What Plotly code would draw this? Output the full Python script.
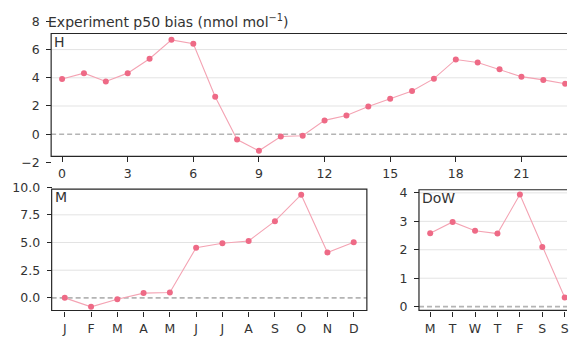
import plotly.graph_objects as go

# ---------------- data ----------------
hours = list(range(24))
hour_bias = [3.92, 4.33, 3.74, 4.33, 5.35, 6.69, 6.42, 2.65, -0.38, -1.18, -0.16, -0.11,
             0.98, 1.32, 1.97, 2.52, 3.06, 3.94, 5.30, 5.08, 4.60, 4.08, 3.85, 3.58]
hour_ticks = [0, 3, 6, 9, 12, 15, 18, 21]
hour_yticks = [-2, 0, 2, 4, 6, 8]

months = list(range(1, 13))
month_labels = ["J", "F", "M", "A", "M", "J", "J", "A", "S", "O", "N", "D"]
month_bias = [0.0, -0.81, -0.12, 0.43, 0.49, 4.53, 4.94, 5.14, 6.93, 9.32, 4.10, 5.02]
month_yticks = [0.0, 2.5, 5.0, 7.5, 10.0]

days = list(range(7))
day_labels = ["M", "T", "W", "T", "F", "S", "S"]
day_bias = [2.58, 2.98, 2.67, 2.57, 3.94, 2.10, 0.32]
day_yticks = [0, 1, 2, 3, 4]

ylabel = "Experiment p50 bias (nmol mol<sup>−1</sup>)"

# ---------------- style ----------------
W, H = 569, 337
LINE = "#f4a3b3"
MARK = "#ee6a86"
FRAME = "#262626"
GRID = "#e3e3e3"
ZERO = "#b4b4b4"
TXT = "#333333"
FONT = "DejaVu Sans"

def px_x(p):
    return p / W

def px_y(p):
    return 1 - p / H

fig = go.Figure()

panels = [
    dict(x=hours, y=hour_bias, xa="x", ya="y", fx=(-0.5, 23.5), fy=(-1.57, 7.14), label="H",
         grid=[g for g in hour_yticks if -1.57 < g < 7.14 and g != 0]),
    dict(x=months, y=month_bias, xa="x2", ya="y2", fx=(0.5, 12.5), fy=(-1.14, 9.83), label="M",
         grid=[g for g in month_yticks if -1.14 < g < 9.83 and g != 0]),
    dict(x=days, y=day_bias, xa="x3", ya="y3", fx=(-0.5, 6.5), fy=(-0.13, 4.11), label="DoW",
         grid=[g for g in day_yticks if -0.13 < g < 4.11 and g != 0]),
]

shapes = []
annotations = []
for p in panels:
    fig.add_trace(go.Scatter(
        x=p["x"], y=p["y"], xaxis=p["xa"], yaxis=p["ya"], mode="lines+markers",
        line=dict(color=LINE, width=1.1),
        marker=dict(color=MARK, size=6, line=dict(width=0)),
        showlegend=False, hoverinfo="skip"))
    x0, x1 = p["fx"]
    y0, y1 = p["fy"]
    for g in p["grid"]:
        shapes.append(dict(type="line", xref=p["xa"], yref=p["ya"], x0=x0, x1=x1, y0=g, y1=g,
                           line=dict(color=GRID, width=1), layer="below"))
    shapes.append(dict(type="line", xref=p["xa"], yref=p["ya"], x0=x0, x1=x1, y0=0, y1=0,
                       line=dict(color=ZERO, width=1.6, dash="5px,3px"), layer="below"))
    shapes.append(dict(type="rect", xref=p["xa"], yref=p["ya"], x0=x0, x1=x1, y0=y0, y1=y1,
                       line=dict(color=FRAME, width=1.2), fillcolor="rgba(0,0,0,0)", layer="above"))
    annotations.append(dict(text=p["label"], xref=p["xa"], yref=p["ya"], x=x0, y=y1,
                            xanchor="left", yanchor="top", xshift=1, yshift=2, showarrow=False,
                            font=dict(family=FONT, size=14, color=TXT)))

annotations.append(dict(text=ylabel, xref="paper", yref="paper", x=px_x(46), y=px_y(15),
                        xanchor="left", yanchor="middle", showarrow=False,
                        font=dict(family=FONT, size=14, color=TXT)))

tickfont = dict(family=FONT, size=12.5, color=TXT)
common_x = dict(showgrid=False, zeroline=False, showline=False, ticks="outside", ticklen=5,
                tickwidth=1, tickcolor=FRAME, tickfont=tickfont, anchor="free",
                ticklabelstandoff=1, ticklabeloverflow="allow")
common_y = dict(showgrid=False, zeroline=False, showline=False, ticks="outside", ticklen=5,
                tickwidth=1, tickcolor=FRAME, tickfont=tickfont, anchor="free",
                ticklabelstandoff=4, ticklabeloverflow="allow")

fig.update_layout(
    width=W, height=H,
    margin=dict(l=0, r=0, t=0, b=0),
    paper_bgcolor="white", plot_bgcolor="white",
    font=dict(family=FONT, color=TXT),
    xaxis=dict(domain=[px_x(46), 1], range=[-0.7426, 23.084], tickvals=hour_ticks,
               position=px_y(155.5), **common_x),
    yaxis=dict(domain=[px_y(162.86), px_y(14.28)], range=[-2.05, 8.05], tickvals=hour_yticks,
               position=px_x(51.3), **common_y),
    xaxis2=dict(domain=[px_x(46), px_x(374)], range=[0.279, 12.722], tickvals=months,
                ticktext=month_labels, position=px_y(316.7), **common_x),
    yaxis2=dict(domain=[px_y(318.5), px_y(186.8)], range=[-1.3, 10.1], tickvals=month_yticks,
                ticktext=[f"{v:.1f}" for v in month_yticks], position=px_x(51.8), **common_y),
    xaxis3=dict(domain=[px_x(414), 1], range=[-0.787, 6.102], tickvals=days,
                ticktext=day_labels, position=px_y(316.7), **common_x),
    yaxis3=dict(domain=[px_y(318.6), px_y(188.0)], range=[-0.2, 4.2], tickvals=day_yticks,
                position=px_x(420.45), **common_y),
    shapes=shapes,
    annotations=annotations,
)

fig.write_html("out.html", config={"displayModeBar": False},
               post_script="document.body.style.margin='0';document.body.style.overflow='hidden';")
